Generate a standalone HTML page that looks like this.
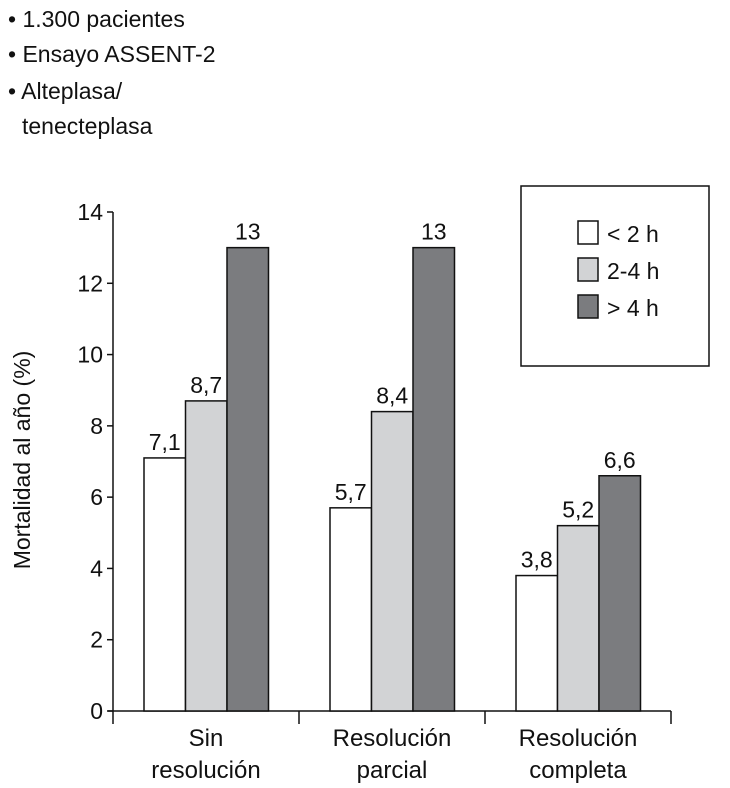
<!DOCTYPE html>
<html><head><meta charset="utf-8"><style>
body{margin:0;background:#fff;}
svg text{font-family:"Liberation Sans Narrow","Liberation Sans",sans-serif;fill:#111;}
</style></head><body>
<svg width="730" height="783" viewBox="0 0 730 783">
<g font-size="23">
<text x="8" y="27">• 1.300 pacientes</text>
<text x="8" y="62">• Ensayo ASSENT-2</text>
<text x="8" y="99">• Alteplasa/</text>
<text x="22" y="134">tenecteplasa</text>
</g>
<text transform="translate(30,460) rotate(-90)" text-anchor="middle" font-size="23">Mortalidad al año (%)</text>
<g id="plot"></g>
<g>
<rect x="521" y="186" width="188" height="180" fill="#fff" stroke="#111" stroke-width="1.5"/>
<rect x="578" y="221" width="20" height="23" fill="#fff" stroke="#111" stroke-width="1.5"/>
<text x="607" y="242" font-size="23">&lt; 2 h</text>
<rect x="578" y="258" width="20" height="23" fill="#d2d3d5" stroke="#111" stroke-width="1.5"/>
<text x="607" y="279" font-size="23">2-4 h</text>
<rect x="578" y="295" width="20" height="23" fill="#7b7c7f" stroke="#111" stroke-width="1.5"/>
<text x="607" y="316" font-size="23">&gt; 4 h</text>
</g>
</svg>
<script>
const categories=[["Sin","resolución"],["Resolución","parcial"],["Resolución","completa"]];
const seriesLt2=[7.1,5.7,3.8];
const series24=[8.7,8.4,5.2];
const seriesGt4=[13,13,6.6];
const yTicks=[0,2,4,6,8,10,12,14];
const NS="http://www.w3.org/2000/svg";
const g=document.getElementById('plot');
const x0=113,band=186,y0=711,yTop=212,yMax=14;
const yS=v=>y0-(y0-yTop)*v/yMax;
function mk(t,a){const e=document.createElementNS(NS,t);for(const k in a)e.setAttribute(k,a[k]);g.appendChild(e);return e;}
const ax=mk('line',{x1:x0,y1:yTop,x2:x0,y2:y0,stroke:'#111','stroke-width':1.5});


const xa=mk('line',{x1:x0-5,y1:y0,x2:x0+band*3,y2:y0,stroke:'#111','stroke-width':1.5});


yTicks.forEach(v=>{
 const t=mk('line',{x1:x0-6,x2:x0,y1:yS(v),y2:yS(v),stroke:'#111','stroke-width':1.5});
 
 
 const l=mk('text',{x:x0-10,y:yS(v)+8,'text-anchor':'end','font-size':23});
 l.textContent=v;
 
 
});
for(let i=0;i<=3;i++){
 const t=mk('line',{x1:x0+band*i,x2:x0+band*i,y1:y0,y2:y0+13,stroke:'#111','stroke-width':1.5});
 
 
}
const series=[[seriesLt2,'#fff'],[series24,'#d2d3d5'],[seriesGt4,'#7b7c7f']];
categories.forEach((c,i)=>{
 const cx=x0+band*i+band/2;
 c.forEach((ln,j)=>{
  const t=mk('text',{x:cx,y:y0+35+j*32,'text-anchor':'middle','font-size':24});
  t.textContent=ln;
  
  
 });
 series.forEach((s,k)=>{
  const v=s[0][i];
  const bx=x0+band*i+31+k*41.5;
  const r=mk('rect',{x:bx,y:yS(v),width:41.5,height:y0-yS(v),fill:s[1],stroke:'#111','stroke-width':1.5});
  
  
  const t=mk('text',{x:bx+20.75,y:yS(v)-8,'text-anchor':'middle','font-size':23});
  t.textContent=String(v).replace('.',',');
  
  
 });
});
</script>
</body></html>
